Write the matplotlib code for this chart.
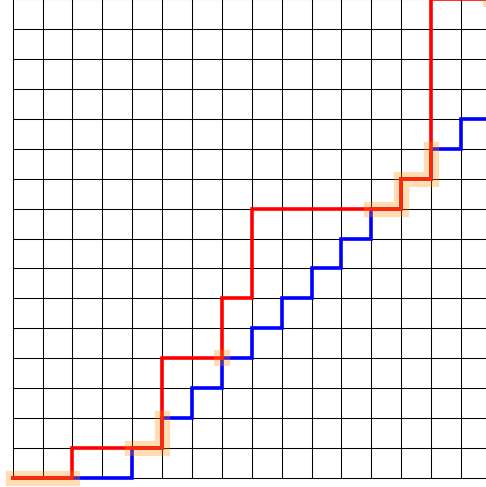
import numpy as np
import matplotlib
matplotlib.use("Agg")
import matplotlib.pyplot as plt

N = 16
# lattice paths as unit steps: R = right, U = up
red_steps = "RRURRRUUURRUURUUURRRRRURUUUUUURR"
blue_steps = "RRRRURURURURURURURURURURURURUUUU"


def walk(steps):
    pts = [(0, 0)]
    for s in steps:
        x, y = pts[-1]
        pts.append((x + 1, y) if s == "R" else (x, y + 1))
    return pts


red = walk(red_steps)
blue = walk(blue_steps)

# shared pieces of the two paths
blue_edges = {frozenset(e) for e in zip(blue[:-1], blue[1:])}
runs, cur = [], []
for a, b in zip(red[:-1], red[1:]):
    if frozenset((a, b)) in blue_edges:
        if not cur:
            cur = [a]
        cur.append(b)
    elif cur:
        runs.append(cur)
        cur = []
if cur:
    runs.append(cur)
on_run = {p for r in runs for p in r}
touch = [p for p in red if p in set(blue) and p not in on_run]

fig = plt.figure(figsize=(4.86, 4.87), dpi=100)
ax = fig.add_axes([0, 0, 1, 1])
s = 29.89
ax.set_xlim(-12.7 / s, (486 - 12.7) / s)
ax.set_ylim(-(487 - 477.7) / s, 477.7 / s)

ax.vlines(range(N + 1), 0, N, color="black", lw=0.75, zorder=1)
ax.hlines(range(N + 1), 0, N, color="black", lw=0.75, zorder=1)

bx, by = zip(*blue)
rx, ry = zip(*red)
ax.plot(bx, by, color="blue", lw=2.6, zorder=2, solid_joinstyle="miter")
ax.plot(rx, ry, color="red", lw=2.6, zorder=3, solid_joinstyle="miter")

hl = "#ff8c00"
for r in runs:
    hx, hy = zip(*r)
    ax.plot(hx, hy, color=hl, alpha=0.3, lw=11, zorder=4,
            solid_capstyle="projecting", solid_joinstyle="miter")
for p in touch:
    ax.plot(p[0], p[1], "s", color=hl, alpha=0.3, ms=11, mew=0, zorder=4)

ax.axis("off")
fig.savefig("out.png", dpi=100)
